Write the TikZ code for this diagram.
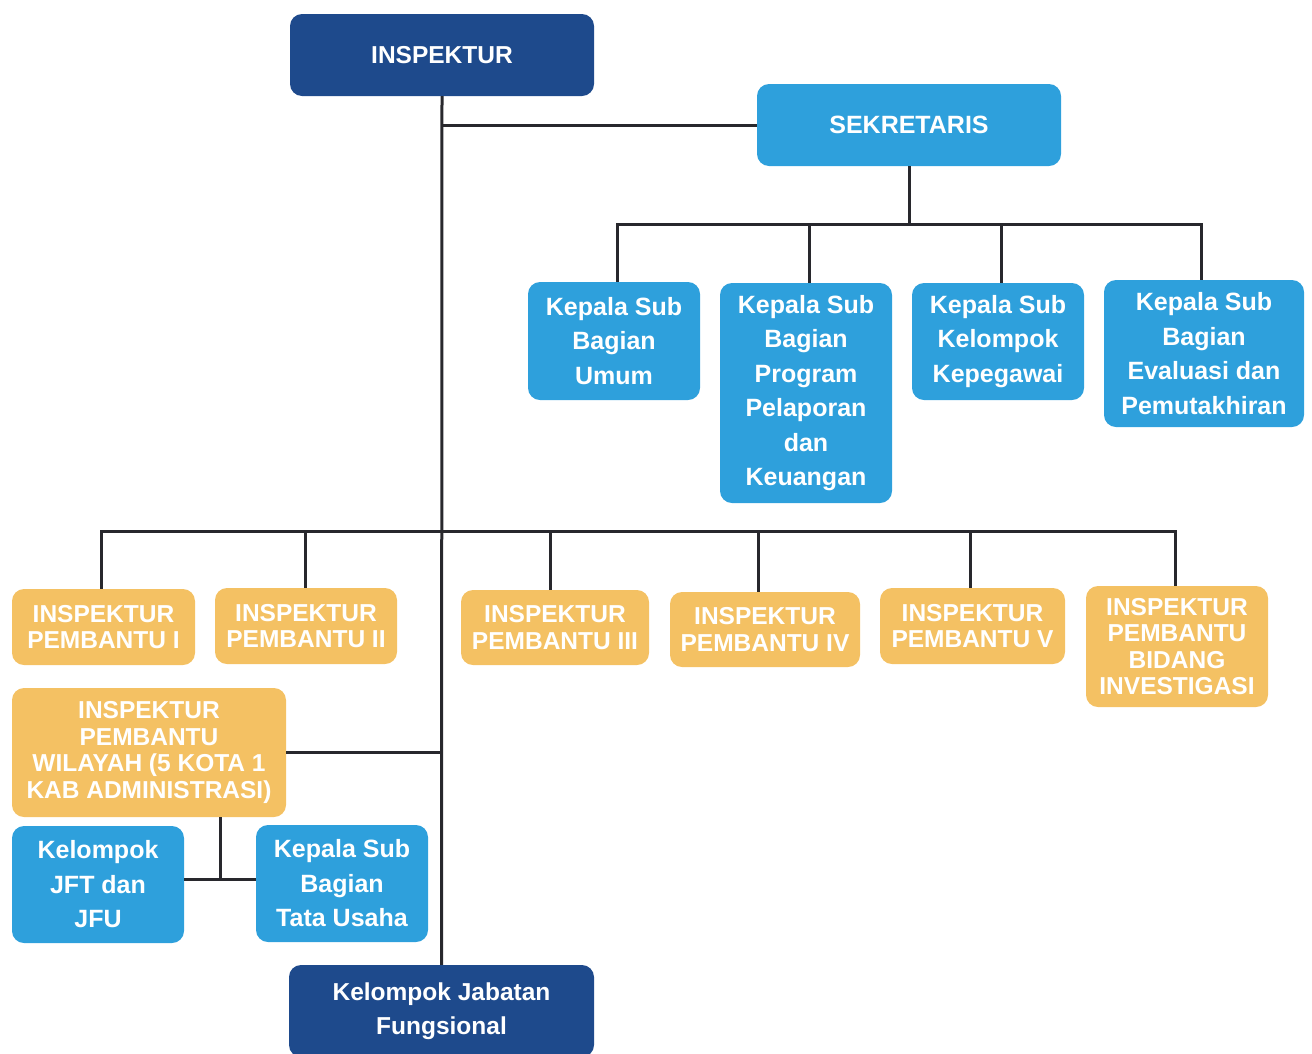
\documentclass[tikz,border=0pt]{standalone}
\usepackage{fontspec}
\setmainfont{Liberation Sans}
\definecolor{darkblue}{RGB}{30,74,140}
\definecolor{lightblue}{RGB}{46,160,220}
\definecolor{orangebox}{RGB}{244,193,99}
\definecolor{linegray}{RGB}{40,40,45}
\begin{document}
\begin{tikzpicture}[x=1pt,y=-1pt,
  box/.style={rounded corners=12pt, align=center, text=white, inner sep=0pt},
  darkbox/.style={box, fill=darkblue, font=\bfseries\fontsize{24.5}{34}\selectfont},
  bluebox/.style={box, fill=lightblue, font=\bfseries\fontsize{25}{34.5}\selectfont},
  orbox/.style={box, fill=orangebox, font=\bfseries\fontsize{24.5}{26.5}\selectfont},
  conn/.style={draw=linegray, line width=3pt}]
\useasboundingbox (0,0) rectangle (1312,1053);
% top
\node[darkbox, minimum width=304pt, minimum height=82pt] (insp) at (442,55) {INSPEKTUR};
\node[bluebox, minimum width=304pt, minimum height=82pt] (sek) at (909,125) {SEKRETARIS};
% sekretaris children
\node[bluebox, minimum width=172pt, minimum height=118pt] (ks1) at (614,341) {Kepala Sub\\Bagian\\Umum};
\node[bluebox, minimum width=172pt, minimum height=220pt] (ks2) at (806,393) {Kepala Sub\\Bagian\\Program\\Pelaporan\\dan\\Keuangan};
\node[bluebox, minimum width=172pt, minimum height=117pt] (ks3) at (998,341.5) {Kepala Sub\\Kelompok\\Kepegawai};
\node[bluebox, minimum width=200pt, minimum height=147pt] (ks4) at (1204,353.5) {Kepala Sub\\Bagian\\Evaluasi dan\\Pemutakhiran};
% inspektur pembantu
\node[orbox, minimum width=183pt, minimum height=76pt] (ip1) at (103.5,627) {INSPEKTUR\\PEMBANTU I};
\node[orbox, minimum width=182pt, minimum height=76pt] (ip2) at (306,626) {INSPEKTUR\\PEMBANTU II};
\node[orbox, minimum width=188pt, minimum height=75pt] (ip3) at (555,627.5) {INSPEKTUR\\PEMBANTU III};
\node[orbox, minimum width=190pt, minimum height=75pt] (ip4) at (765,629.5) {INSPEKTUR\\PEMBANTU IV};
\node[orbox, minimum width=185pt, minimum height=76pt] (ip5) at (972.5,626) {INSPEKTUR\\PEMBANTU V};
\node[orbox, minimum width=182pt, minimum height=121pt] (ip6) at (1177,646.5) {INSPEKTUR\\PEMBANTU\\BIDANG\\INVESTIGASI};
% wilayah
\node[orbox, minimum width=274pt, minimum height=129pt] (wil) at (149,752.5) {INSPEKTUR\\PEMBANTU\\WILAYAH (5 KOTA 1\\KAB ADMINISTRASI)};
\node[bluebox, minimum width=172pt, minimum height=117pt] (jft) at (98,884.5) {Kelompok\\JFT dan\\JFU};
\node[bluebox, minimum width=172pt, minimum height=117pt] (tu) at (342,883.5) {Kepala Sub\\Bagian\\Tata Usaha};
% bottom
\node[darkbox, minimum width=305pt, minimum height=92pt] (kjf) at (441.5,1011) {Kelompok Jabatan\\Fungsional};
% bus coordinates
\coordinate (sbus) at (909,224);
\coordinate (ibus) at (442,531);
\coordinate (wbus) at (220,879);
% connectors
\draw[conn] (insp.south) -- (kjf.north);
\draw[conn] (insp.south |- sek.west) -- (sek.west);
\draw[conn] (sek.south) -- (sbus);
\draw[conn] ([xshift=3pt]ks1.north) |- (sbus);
\draw[conn] ([xshift=3pt]ks2.north) |- (sbus);
\draw[conn] ([xshift=3pt]ks3.north) |- (sbus);
\draw[conn] ([xshift=-3pt]ks4.north) |- (sbus);
\draw[conn] ([xshift=-2pt]ip1.north) |- (ibus);
\draw[conn] ([xshift=-1pt]ip2.north) |- (ibus);
\draw[conn] ([xshift=-5pt]ip3.north) |- (ibus);
\draw[conn] ([xshift=-7pt]ip4.north) |- (ibus);
\draw[conn] ([xshift=-2pt]ip5.north) |- (ibus);
\draw[conn] ([xshift=-2pt]ip6.north) |- (ibus);
\draw[conn] (wil.east) -- (wil.east -| insp.south);
\draw[conn] (wil.south -| wbus) -- (wbus);
\draw[conn] (jft.east |- wbus) -- (tu.west |- wbus);
\end{tikzpicture}
\end{document}
